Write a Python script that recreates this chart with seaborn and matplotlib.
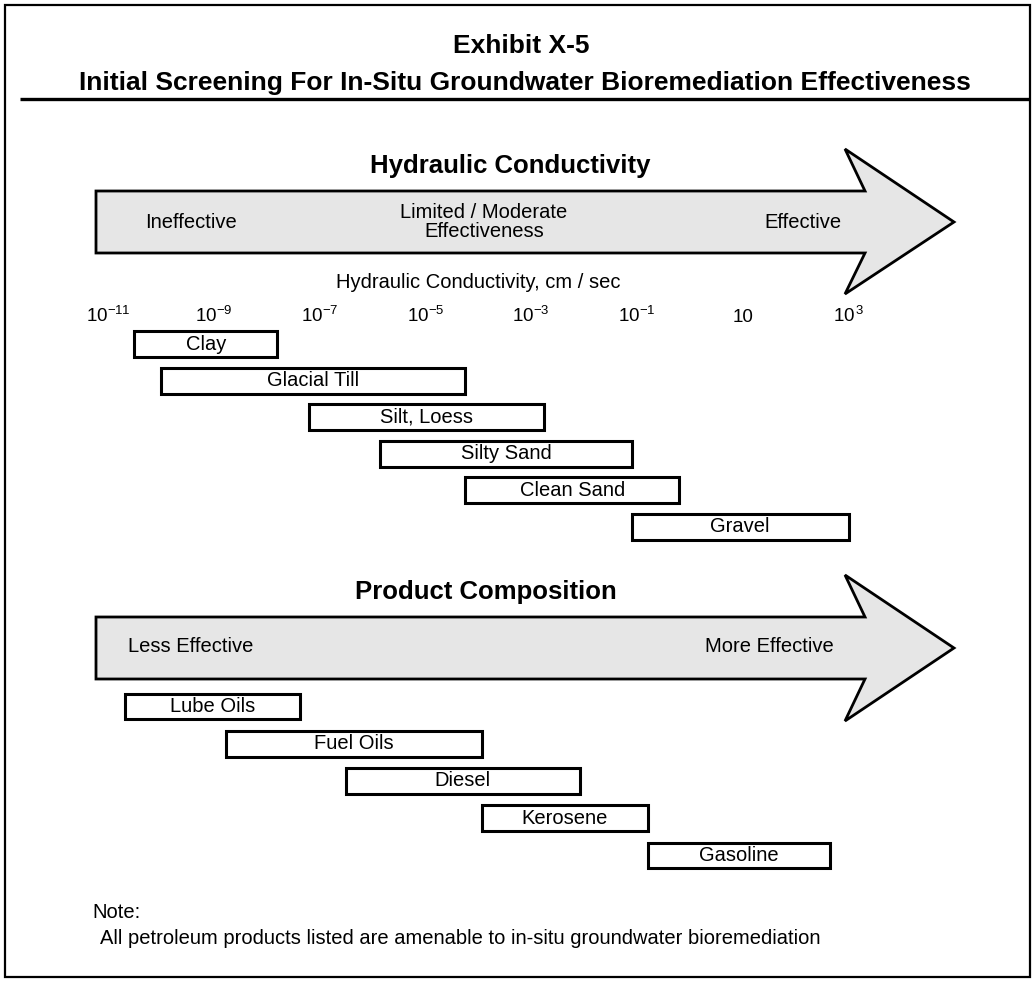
import numpy as np
import seaborn as sns
import matplotlib.pyplot as plt
from matplotlib.patches import Polygon, Rectangle

# ---- data ----
soil_types = ['Clay', 'Glacial Till', 'Silt, Loess', 'Silty Sand', 'Clean Sand', 'Gravel']
soil_low_exp = [-10.5, -10.0, -7.2, -5.85, -4.25, -1.1]   # log10 K, cm/sec
soil_high_exp = [-7.8, -4.25, -2.75, -1.1, -0.2, 3.0]
k_tick_exp = [-11, -9, -7, -5, -3, -1, 1, 3]
k_tick_labels = ['$10^{-11}$', '$10^{-9}$', '$10^{-7}$', '$10^{-5}$',
                 '$10^{-3}$', '$10^{-1}$', '10', '$10^{\\,3}$']

products = ['Lube Oils', 'Fuel Oils', 'Diesel', 'Kerosene', 'Gasoline']
prod_low = [3.4, 15.2, 29.1, 45.0, 64.3]     # relative position along arrow (0-100)
prod_high = [23.8, 45.0, 56.4, 64.3, 85.5]

sns.set_style('white')
plt.rcParams['font.family'] = ['Liberation Sans', 'DejaVu Sans']
plt.rcParams['mathtext.fontset'] = 'custom'
plt.rcParams['mathtext.rm'] = 'Liberation Sans'
plt.rcParams['mathtext.it'] = 'Liberation Sans'
plt.rcParams['text.color'] = 'black'
plt.rcParams['axes.labelcolor'] = 'black'
plt.rcParams['xtick.color'] = 'black'

W, H = 1035, 982
fig = plt.figure(figsize=(W / 100, H / 100), dpi=100)
BODY = 14.5


def px_axes(x0, y0, x1, y1):
    # axes placed by pixel box (top-left origin)
    return fig.add_axes([x0 / W, 1 - y1 / H, (x1 - x0) / W, (y1 - y0) / H])


# overlay for frame, title and arrows (pixel coordinates)
deco = px_axes(0, 0, W, H)
deco.set_xlim(0, W)
deco.set_ylim(H, 0)
deco.axis('off')
deco.add_patch(Rectangle((5, 5), 1025, 972, fill=False, lw=1.6, ec='black'))
deco.plot([20, 1030], [98.5, 98.5], color='black', lw=2.4, solid_capstyle='butt')

title_font = dict(family=['Liberation Sans Narrow', 'Liberation Sans'], weight='bold',
                  ha='center', va='baseline', fontsize=19)
deco.text(521, 53, 'Exhibit X-5', **title_font)
deco.text(525, 90, 'Initial Screening For In-Situ Groundwater Bioremediation Effectiveness',
          **title_font)


def draw_arrow(ytop, ybot, head_top, head_bot):
    ymid = (ytop + ybot) / 2
    pts = [(96, ytop), (865, ytop), (845, head_top), (954, ymid),
           (845, head_bot), (865, ybot), (96, ybot)]
    deco.add_patch(Polygon(pts, closed=True, fc='#e6e6e6', ec='black', lw=2,
                           joinstyle='miter'))


draw_arrow(191, 253, 149, 294)
deco.text(510, 166, 'Hydraulic Conductivity', fontsize=18.5, weight='bold', ha='center', va='center')
deco.text(191, 222, 'Ineffective', fontsize=BODY, ha='center', va='center')
deco.text(484, 222, 'Limited / Moderate\nEffectiveness', fontsize=BODY, ha='center', va='center',
          linespacing=1.05)
deco.text(803, 222, 'Effective', fontsize=BODY, ha='center', va='center')

draw_arrow(617, 679, 575, 721)
deco.text(486, 592, 'Product Composition', fontsize=18.5, weight='bold', ha='center', va='center')
deco.text(191, 647, 'Less Effective', fontsize=BODY, ha='center', va='center')
deco.text(769, 647, 'More Effective', fontsize=BODY, ha='center', va='center')

deco.text(92, 912, 'Note:', fontsize=BODY, ha='left', va='center')
deco.text(100, 938, 'All petroleum products listed are amenable to in-situ groundwater bioremediation',
          fontsize=BODY, ha='left', va='center')

# ---- hydraulic conductivity ranges (log axis) ----
per_dec = 52.9
ax1 = px_axes(108 - per_dec, 325.7, 108 + 15 * per_dec, 545.3)
lo = 10.0 ** np.array(soil_low_exp)
hi = 10.0 ** np.array(soil_high_exp)
rows = np.arange(len(soil_types))
ax1.barh(rows, hi - lo, left=lo, height=0.71, color='white', edgecolor='black', lw=2.2)
for r, name, a, b in zip(rows, soil_types, lo, hi):
    ax1.text(np.sqrt(a * b), r, name, fontsize=BODY, ha='center', va='center')
ax1.set_xscale('log')
ax1.set_xlim(1e-12, 1e4)
ax1.set_ylim(len(soil_types) - 0.5, -0.5)
ax1.set_xticks([10.0 ** e for e in k_tick_exp])
ax1.set_xticklabels(k_tick_labels)
ax1.minorticks_off()
ax1.set_yticks([])
ax1.tick_params(top=False, bottom=False, labeltop=True, labelbottom=False, length=0,
                pad=0, labelsize=13.5)
ax1.xaxis.set_label_position('top')
ax1.set_xlabel('Hydraulic Conductivity, cm / sec', fontsize=BODY, labelpad=13)
for s in ax1.spines.values():
    s.set_visible(False)
ax1.patch.set_alpha(0)

# ---- product composition ranges ----
ax2 = px_axes(96, 687.9, 954, 874.1)
prows = np.arange(len(products))
pl = np.array(prod_low)
ph = np.array(prod_high)
ax2.barh(prows, ph - pl, left=pl, height=0.69, color='white', edgecolor='black', lw=2.2)
for r, name, a, b in zip(prows, products, pl, ph):
    ax2.text((a + b) / 2, r, name, fontsize=BODY, ha='center', va='center')
ax2.set_xlim(0, 100)
ax2.set_ylim(len(products) - 0.5, -0.5)
ax2.axis('off')

fig.savefig('out.png', dpi=100)
